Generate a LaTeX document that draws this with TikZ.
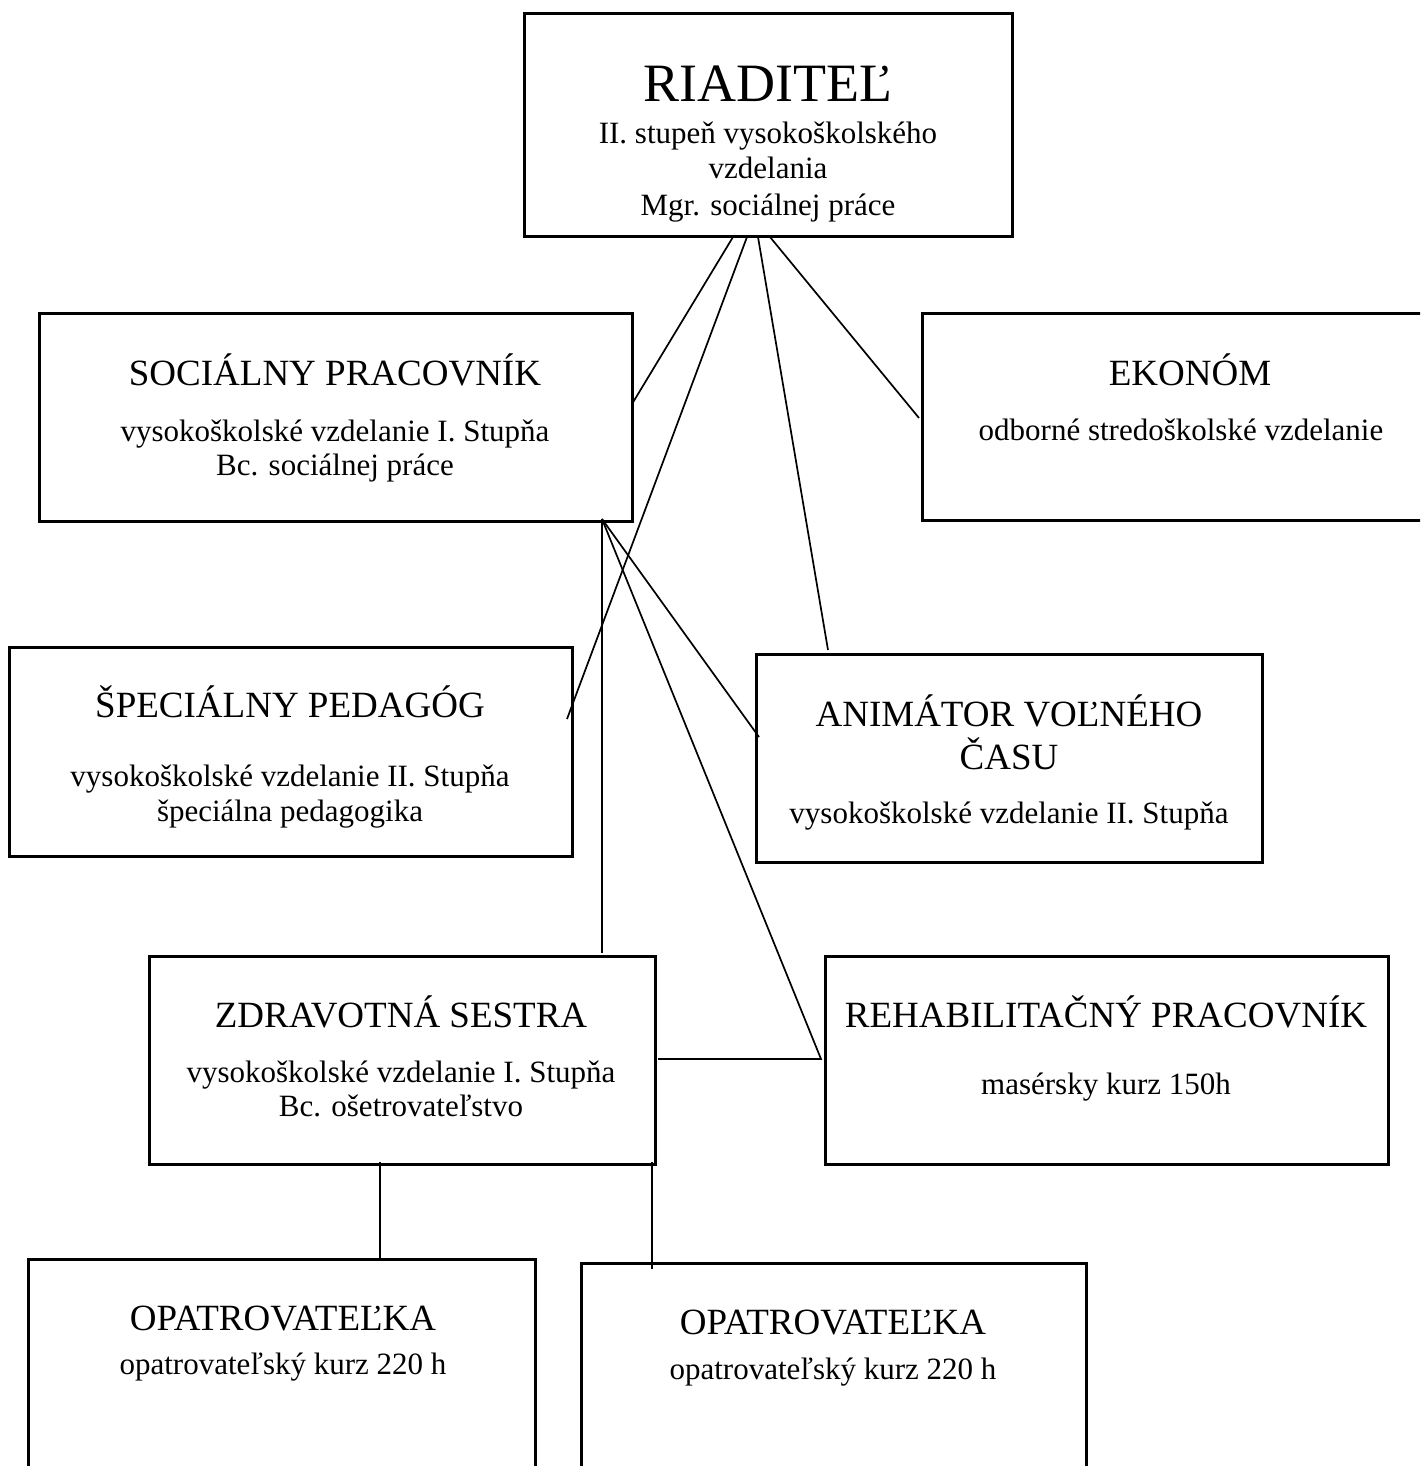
\documentclass[tikz,border=0pt]{standalone}
\usepackage{fontspec}
\setmainfont{Liberation Serif}
\usetikzlibrary{fit}
\begin{document}
\begin{tikzpicture}[x=0.5pt,y=-0.5pt,
  box/.style={draw, line width=1.5pt, inner sep=0pt, outer sep=0pt, rectangle},
  conn/.style={line width=0.85pt},
  big/.style={anchor=base, inner sep=0pt, font=\fontsize{27}{32}\selectfont},
  ttl/.style={anchor=base, inner sep=0pt, font=\fontsize{18.5}{21}\selectfont},
  txt/.style={anchor=base, inner sep=0pt, font=\fontsize{15.5}{18}\selectfont}]
\useasboundingbox (0,0) rectangle (1420,1466);
\clip (0,0) rectangle (1420,1466);

% boxes
\node[box, fit={(524,14) (1012,237)}] (riad) {};
\node[box, fit={(39,313) (632,521)}] (soc) {};
\node[box, fit={(922,313) (1440,520)}] (eko) {};
\node[box, fit={(9,647) (572,856)}] (spec) {};
\node[box, fit={(756,654) (1262,862)}] (anim) {};
\node[box, fit={(149,956) (655,1164)}] (zdr) {};
\node[box, fit={(825,956) (1388,1164)}] (reh) {};
\node[box, fit={(28,1259) (535,1490)}] (op1) {};
\node[box, fit={(581,1263) (1086,1490)}] (op2) {};

% texts
\node[big] (riadT) at (768,102) {RIADITEĽ};
\node[txt] (riadA) at (768,144) {II. stupeň vysokoškolského};
\node[txt] (riadB) at (768,179) {vzdelania};
\node[txt] (riadC) at (768,216) {Mgr. sociálnej práce};

\node[ttl] (socT) at (335,385) {SOCIÁLNY PRACOVNÍK};
\node[txt] (socA) at (335,441) {vysokoškolské vzdelanie I. Stupňa};
\node[txt] (socB) at (335,475) {Bc. sociálnej práce};

\node[ttl] (ekoT) at (1190,385) {EKONÓM};
\node[txt] (ekoA) at (1181,440) {odborné stredoškolské vzdelanie};

\node[ttl] (specT) at (290,717) {ŠPECIÁLNY PEDAGÓG};
\node[txt] (specA) at (290,786) {vysokoškolské vzdelanie II. Stupňa};
\node[txt] (specB) at (290,821) {špeciálna pedagogika};

\node[ttl] (animT) at (1009,726) {ANIMÁTOR VOĽNÉHO};
\node[ttl] (animU) at (1009,769) {ČASU};
\node[txt] (animA) at (1009,823) {vysokoškolské vzdelanie II. Stupňa};

\node[ttl] (zdrT) at (401,1027) {ZDRAVOTNÁ SESTRA};
\node[txt] (zdrA) at (401,1082) {vysokoškolské vzdelanie I. Stupňa};
\node[txt] (zdrB) at (401,1116) {Bc. ošetrovateľstvo};

\node[ttl] (rehT) at (1106,1027) {REHABILITAČNÝ PRACOVNÍK};
\node[txt] (rehA) at (1106,1094) {masérsky kurz 150h};

\node[ttl] (op1T) at (283,1330) {OPATROVATEĽKA};
\node[txt] (op1A) at (283,1374) {opatrovateľský kurz 220 h};

\node[ttl] (op2T) at (833,1334) {OPATROVATEĽKA};
\node[txt] (op2A) at (833,1379) {opatrovateľský kurz 220 h};

% connector end points
\coordinate (r1) at (733,237);
\coordinate (r2) at (747,237);
\coordinate (r3) at (758,237);
\coordinate (r4) at (770,237);
\coordinate (socR) at (632,404);
\coordinate (specR) at (567,719);
\coordinate (animTop) at (828,650);
\coordinate (ekoL) at (919,418);
\coordinate (socBot) at (602,519);
\coordinate (zdrTop) at (602,953);
\coordinate (animL) at (759,737);
\coordinate (rehL) at (821,1059);
\coordinate (zdrR) at (658,1059);
\coordinate (zdrB1) at (380,1162);
\coordinate (op1Top) at (380,1259);
\coordinate (zdrB2) at (652,1162);
\coordinate (op2Top) at (652,1269);

% connectors
\draw[conn] (r1) -- (socR);
\draw[conn] (r2) -- (specR);
\draw[conn] (r3) -- (animTop);
\draw[conn] (r4) -- (ekoL);
\draw[conn] (socBot) -- (zdrTop);
\draw[conn] (socBot) -- (animL);
\draw[conn] (socBot) -- (rehL) -- (zdrR);
\draw[conn] (zdrB1) -- (op1Top);
\draw[conn] (zdrB2) -- (op2Top);
\end{tikzpicture}
\end{document}
